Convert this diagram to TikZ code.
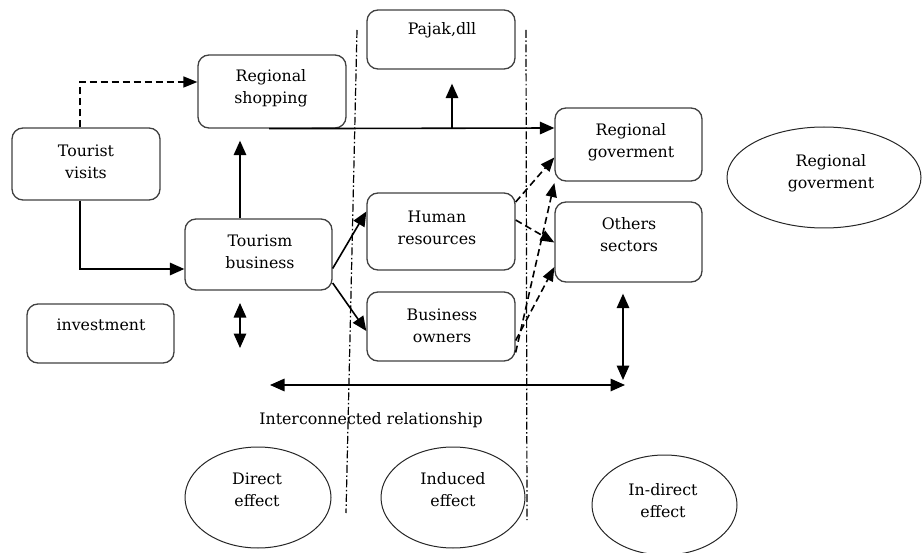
\documentclass[tikz,border=0pt]{standalone}
\usepackage{fontspec}
\setmainfont{DejaVu Serif}
\usetikzlibrary{arrows.meta,shapes.geometric}
\begin{document}
\begin{tikzpicture}[x=1pt,y=-1pt,
  box/.style={draw=black!75, line width=1.3pt, rounded corners=11pt, inner sep=0pt},
  oval/.style={draw=black!85, line width=1pt, ellipse, inner sep=0pt},
  txt/.style={align=center, inner sep=0pt, font=\fontsize{15.8}{22}\selectfont},
  arr/.style={-{Triangle[length=14.5pt,width=12.5pt]}, line width=1.6pt},
  darr/.style={{Triangle[length=14.5pt,width=12.5pt]}-{Triangle[length=14.5pt,width=12.5pt]}, line width=1.6pt},
  dsh/.style={-{Triangle[length=14pt,width=11pt]}, line width=1.6pt, dash pattern=on 7pt off 4pt},
  zone/.style={line width=1.2pt, dash pattern=on 8pt off 2.5pt on 1.5pt off 2.5pt}]
\useasboundingbox (0,0) rectangle (923,553);

% rounded boxes
\node[box, minimum width=148pt, minimum height=72pt] (tv)  at (86,164)    {};
\node[box, minimum width=148pt, minimum height=73pt] (rs)  at (272,91.5)  {};
\node[box, minimum width=148pt, minimum height=59pt] (pj)  at (441,39.5)  {};
\node[box, minimum width=147pt, minimum height=73pt] (rg)  at (628.5,144.5) {};
\node[box, minimum width=147pt, minimum height=71pt] (tb)  at (258.5,254.5) {};
\node[box, minimum width=148pt, minimum height=77pt] (hr)  at (441,231.5) {};
\node[box, minimum width=147pt, minimum height=80pt] (os)  at (628.5,242) {};
\node[box, minimum width=148pt, minimum height=69pt] (bo)  at (441,326.5) {};
\node[box, minimum width=147pt, minimum height=59pt] (inv) at (100.5,333.5) {};

% ellipses
\node[oval, minimum width=194pt, minimum height=101pt] (rge) at (824,177.5) {};
\node[oval, minimum width=146pt, minimum height=101pt] (de)  at (258,497.5) {};
\node[oval, minimum width=144pt, minimum height=101pt] (ie)  at (453,497.5) {};
\node[oval, minimum width=145pt, minimum height=100pt] (ide) at (664.5,505) {};

% labels
\node[txt] (tvT)  at (86,162)   {Tourist\\visits};
\node[txt] (rsT)  at (271,88)   {Regional\\shopping};
\node[txt] (pjT)  at (442,30)   {Pajak,dll};
\node[txt] (rgT)  at (631,142)  {Regional\\goverment};
\node[txt] (tbT)  at (260,252)  {Tourism\\business};
\node[txt] (hrT)  at (437,228)  {Human\\resources};
\node[txt] (osT)  at (629,235)  {Others\\sectors};
\node[txt] (boT)  at (442,326)  {Business\\owners};
\node[txt] (invT) at (101,325)  {investment};
\node[txt] (rgeT) at (831,173)  {Regional\\goverment};
\node[txt] (deT)  at (257,490)  {Direct\\effect};
\node[txt] (ieT)  at (453,490)  {Induced\\effect};
\node[txt] (ideT) at (663,501)  {In-direct\\effect};
\node[txt] (icT)  at (371,420)  {Interconnected relationship};

% zone separators
\coordinate (z1a) at (357,30);  \coordinate (z1b) at (346,513);
\coordinate (z2a) at (526,30);  \coordinate (z2b) at (527,520);
\draw[zone] (z1a) -- (z1b);
\draw[zone] (z2a) -- (z2b);

% flows
\draw[dsh] ([xshift=-6pt]tv.north) |- ([yshift=9.5pt]rs.west);
\draw[arr] ([xshift=-6pt]tv.south) |- ([yshift=-14.5pt]tb.west);
\draw[arr] ([xshift=-18.5pt]tb.north) -- ([xshift=-32pt,yshift=-12pt]rs.south);
\draw[arr] ([xshift=-3pt]rs.south) -- ([yshift=16.5pt]rg.west);
\coordinate (tax) at (452,128);
\coordinate (pjtip) at ([yshift=-14pt]pj.south);
\draw[arr] (tax) -- (tax |- pjtip);
\draw[arr] ([yshift=-14pt]tb.east) -- ([yshift=20pt]hr.west);
\draw[arr] ([yshift=-28.5pt]tb.east) -- ([yshift=-4.5pt]bo.west);

% spill-over effects
\draw[dsh] ([yshift=29.5pt]hr.east) -- ([yshift=-13pt]rg.west);
\draw[dsh] ([yshift=11.5pt]hr.east) -- ([yshift=-0.5pt]os.west);
\draw[dsh] ([yshift=-26pt]bo.east) -- ([yshift=-38.5pt]rg.west);
\draw[dsh] ([yshift=-14pt]bo.east) -- ([yshift=-25pt]os.west);

% interconnections
\coordinate (ia) at (270,385);  \coordinate (ib) at (625,385);
\coordinate (ic) at (623,380);
\draw[darr] (ia) -- (ib);
\draw[darr] ([xshift=-5.5pt,yshift=-11pt]os.south) -- (ic);
\coordinate (sa) at (240,303);  \coordinate (sb) at (240,348);
\draw[darr] (sa) -- (sb);
\end{tikzpicture}
\end{document}
